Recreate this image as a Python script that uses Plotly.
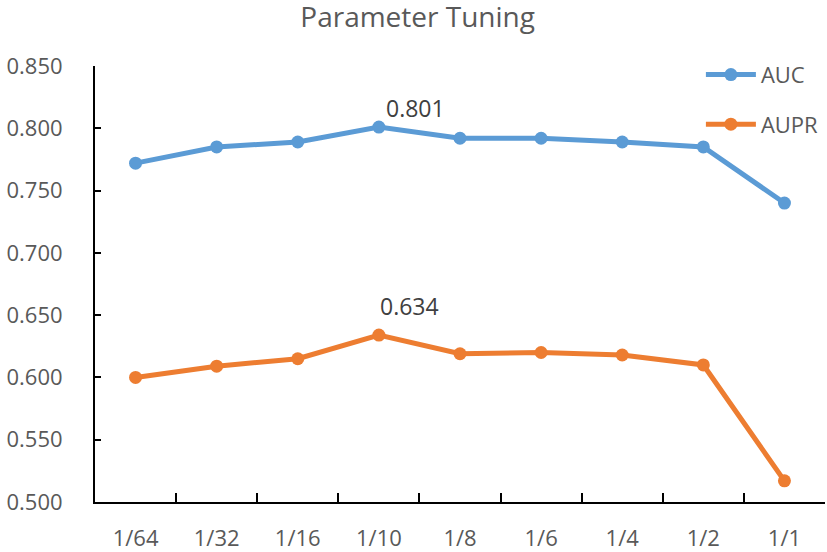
import plotly.graph_objects as go

categories = ["1/64", "1/32", "1/16", "1/10", "1/8", "1/6", "1/4", "1/2", "1/1"]
auc = [0.772, 0.785, 0.789, 0.801, 0.792, 0.792, 0.789, 0.785, 0.740]
aupr = [0.600, 0.609, 0.615, 0.634, 0.619, 0.620, 0.618, 0.610, 0.517]
y_ticks = [0.50, 0.55, 0.60, 0.65, 0.70, 0.75, 0.80, 0.85]

FONT = "Open Sans"
GRAY = "#595959"
W, H = 827, 552

fig = go.Figure()
fig.add_trace(go.Scatter(x=categories, y=auc, name="AUC", mode="lines+markers",
                         line=dict(color="#5B9BD5", width=5),
                         marker=dict(size=13, color="#5B9BD5"),
                         legendgroup="a"))
fig.add_trace(go.Scatter(x=categories, y=aupr, name="AUPR", mode="lines+markers",
                         line=dict(color="#ED7D31", width=5),
                         marker=dict(size=13, color="#ED7D31"),
                         legendgroup="b"))

# data labels at maximum of each series
i_auc = auc.index(max(auc))
i_aupr = aupr.index(max(aupr))
fig.add_annotation(x=categories[i_auc], y=auc[i_auc], text=f"{auc[i_auc]:.3f}",
                   showarrow=False, xshift=37, yshift=19,
                   font=dict(family=FONT, size=23, color="#404040"))
fig.add_annotation(x=categories[i_aupr], y=aupr[i_aupr], text=f"{aupr[i_aupr]:.3f}",
                   showarrow=False, xshift=31, yshift=29,
                   font=dict(family=FONT, size=23, color="#404040"))

fig.update_layout(
    width=W, height=H,
    margin=dict(l=95, r=2, t=66, b=50, autoexpand=False),
    paper_bgcolor="white", plot_bgcolor="white",
    font=dict(family=FONT, size=22, color=GRAY),
    title=dict(text="Parameter Tuning", x=0.505, xanchor="center",
               yref="container", y=1 - 17 / H, yanchor="middle",
               font=dict(family=FONT, size=28, color=GRAY)),
    legend=dict(x=0.83, xanchor="left", y=1.028, yanchor="top",
                font=dict(family=FONT, size=22, color=GRAY),
                bgcolor="rgba(0,0,0,0)", traceorder="grouped", tracegroupgap=18,
                itemwidth=50),
    showlegend=True,
)
fig.update_xaxes(type="category", range=[-0.5, len(categories) - 0.5],
                 showline=True, linecolor="black", linewidth=2,
                 ticks="inside", ticklen=9, tickwidth=2, tickcolor="black",
                 tickson="boundaries", showgrid=False, zeroline=False,
                 ticklabelstandoff=16, automargin=False, fixedrange=True)
fig.update_yaxes(range=[0.5, 0.85], tickvals=y_ticks,
                 ticktext=[f"{v:.3f}" for v in y_ticks],
                 showline=True, linecolor="black", linewidth=2,
                 ticks="inside", ticklen=6, tickwidth=2, tickcolor="black",
                 showgrid=False, zeroline=False, ticklabelstandoff=26,
                 automargin=False)

# remove the browser's default 8px body margin so the figure fills the window
fig.write_html("out.html",
               config={"displayModeBar": False},
               post_script="document.body.style.margin='0px';document.body.style.overflow='hidden';")
